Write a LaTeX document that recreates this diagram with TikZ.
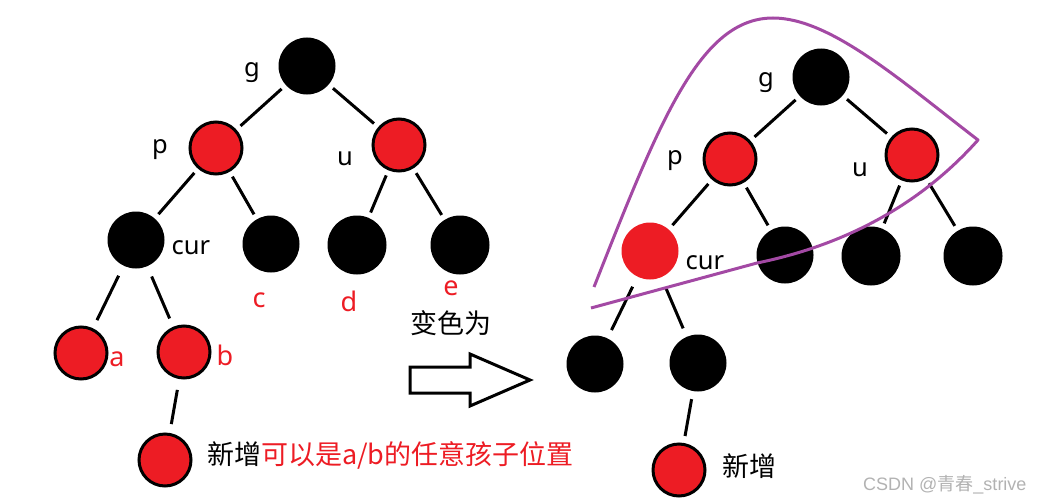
\documentclass[tikz,border=0pt]{standalone}
\usepackage{fontspec}
\setmainfont{Noto Sans}
\newfontfamily\cjk{Noto Sans CJK SC}
\newfontfamily\wmfont{Liberation Sans}
\definecolor{pred}{HTML}{ED1C24}
\definecolor{ppurple}{HTML}{A349A4}
\begin{document}
\begin{tikzpicture}[x=1pt,y=-1pt,
  rn/.style={circle,draw=black,fill=pred,line width=3pt,minimum size=52pt,inner sep=0pt},
  bn/.style={circle,fill=black,minimum size=57pt,inner sep=0pt},
  bbn/.style={circle,fill=black,minimum size=59pt,inner sep=0pt},
  rnf/.style={circle,fill=pred,minimum size=57pt,inner sep=0pt},
  edge/.style={line width=3pt,shorten <=5.5pt,shorten >=5.5pt},
  ledge/.style={line width=3pt,shorten <=11pt,shorten >=9pt},
  lab/.style={anchor=base,font=\fontsize{25.5}{28}\selectfont,inner sep=0pt},
  rlab/.style={anchor=base,text=pred,font=\fontsize{27}{30}\selectfont,inner sep=0pt},
  cjkt/.style={font=\cjk\fontsize{27}{30}\selectfont,inner sep=0pt}]
\useasboundingbox (0,0) rectangle (1043,503);

% ---------- left tree ----------
\node[bn]  (g)   at (307,66)  {};
\node[rn]  (p)   at (216,148) {};
\node[rn]  (u)   at (399,145) {};
\node[bn]  (cur) at (136,240) {};
\node[bn]  (c)   at (271,244) {};
\node[bbn] (d)   at (357,245) {};
\node[bbn] (e)   at (460,245) {};
\node[rn]  (a)   at (81,353)  {};
\node[rn]  (b)   at (184,352) {};
\node[rn]  (n)   at (165,460) {};

\draw[edge] (g) -- (p);
\draw[edge] (g) -- (u);
\draw[edge] (p) -- (cur);
\draw[edge] (p) -- (c);
\draw[edge] (u) -- (d);
\draw[edge] (u) -- (e);
\draw[ledge] (cur) -- (a);
\draw[ledge] (cur) -- (b);
\draw[ledge] (b) -- (n);

\node[lab] (lg) at (252,76) {g};
\node[lab] (lp) at (160,153) {p};
\node[lab] (lu) at (345,165) {u};
\node[lab] (lcur) at (191,254) {cur};
\node[rlab] (la) at (117,366) {a};
\node[rlab] (lb) at (225,365) {b};
\node[rlab] (lc) at (259,307) {c};
\node[rlab] (ld) at (349,311) {d};
\node[rlab] (le) at (451,295) {e};

\node[cjkt,anchor=west] (t1) at (207,455) {新增\textcolor{pred}{可以是a/b的任意孩子位置}};

% ---------- arrow ----------
\node[cjkt] (t2) at (451,323) {变色为};
\draw[line width=3pt,line join=miter] (410,367) -- (470,367) -- (470,354) -- (530,380)
  -- (470,406) -- (470,393) -- (410,393) -- cycle;

% ---------- right tree ----------
\node[bn]  (G)  at (821,77)  {};
\node[rn]  (P)  at (730,159) {};
\node[rn]  (U)  at (912,155) {};
\node[rnf] (C)  at (650,251) {};
\node[bn]  (B2) at (785,255) {};
\node[bbn] (B3) at (871,256) {};
\node[bbn] (B4) at (973,256) {};
\node[bn]  (B5) at (595,364) {};
\node[bn]  (B6) at (698,363) {};
\node[rn]  (N)  at (679,470) {};

\draw[edge] (G) -- (P);
\draw[edge] (G) -- (U);
\draw[edge] (P) -- (C);
\draw[edge] (P) -- (B2);
\draw[edge] (U) -- (B3);
\draw[edge] (U) -- (B4);
\draw[ledge] (C) -- (B5);
\draw[ledge] (C) -- (B6);
\draw[line width=3pt,shorten <=8pt,shorten >=7pt] (B6) -- (N);

\node[lab] (Lg) at (766,86) {g};
\node[lab] (Lp) at (675,164) {p};
\node[lab] (Lu) at (860,176) {u};
\node[lab] (Lcur) at (705,269) {cur};

\node[cjkt,anchor=west] (t3) at (722,466) {新增};

% ---------- purple enclosure ----------
\draw[ppurple,line width=3pt,line join=round]
  (594,287) .. controls (660,120) and (700,18) .. (773,18)
  .. controls (830,18) and (900,80) .. (978,140)
  .. controls (920,205) and (845,245) .. (757,263)
  -- (591,308);

% ---------- watermark ----------
\node[anchor=west,text=gray!60,inner sep=0pt,font=\wmfont\fontsize{18}{20}\selectfont] (wm) at (863,485) {CSDN @{\cjk 青春}\_strive};
\end{tikzpicture}
\end{document}
